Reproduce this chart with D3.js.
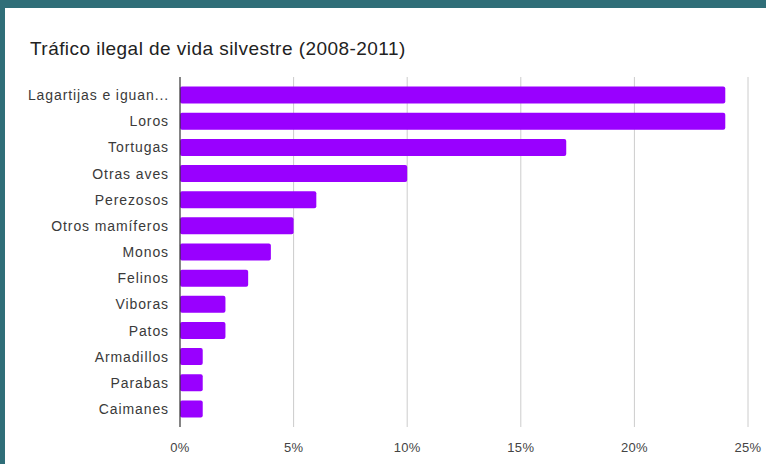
<!DOCTYPE html>
<html>
<head>
<meta charset="utf-8">
<script src="https://cdn.jsdelivr.net/npm/d3@7"></script>
<style>
  body { margin: 0; background: #2f6e78; }
  svg { display: block; font-family: "Liberation Sans", Arial, sans-serif; }
</style>
</head>
<body>
<div id="chart"></div>
<script>
/* DATA */
const categories = ["Lagartijas e iguan...", "Loros", "Tortugas", "Otras aves", "Perezosos",
  "Otros mamíferos", "Monos", "Felinos", "Viboras", "Patos", "Armadillos", "Parabas", "Caimanes"];
const percents = [24, 24, 17, 10, 6, 5, 4, 3, 2, 2, 1, 1, 1];
const xTicks = [0, 5, 10, 15, 20, 25];
const title = "Tráfico ilegal de vida silvestre (2008-2011)";

/* CONSTANTS */
const width = 766,
  height = 464,
  margin = { top: 82, bottom: 42, left: 180, right: 18 };

const rows = categories.map((c, i) => ({ name: c, value: percents[i] }));

const svg = d3.select("#chart")
  .append("svg")
  .attr("width", width)
  .attr("height", height);

// teal frame + white card
svg.append("rect")
  .attr("width", width).attr("height", height)
  .attr("fill", "#2f6e78");
svg.append("rect")
  .attr("x", 5).attr("y", 8)
  .attr("width", width - 5).attr("height", height - 8)
  .attr("fill", "#ffffff");

/* SCALES */
const xScale = d3.scaleLinear()
  .domain([0, 25])
  .range([margin.left, width - margin.right]);

const yScale = d3.scaleBand()
  .domain(categories)
  .range([margin.top, height - margin.bottom])
  .paddingInner(0.35)
  .paddingOuter(0.175);

// title
svg.append("text")
  .attr("x", 30)
  .attr("y", 55)
  .attr("font-size", 19)
  .attr("letter-spacing", 0.45)
  .attr("fill", "#222")
  .text(title);

// gridlines
svg.selectAll("line.grid")
  .data(xTicks.filter(d => d > 0))
  .join("line")
  .attr("class", "grid")
  .attr("x1", d => xScale(d))
  .attr("x2", d => xScale(d))
  .attr("y1", 77)
  .attr("y2", 427)
  .attr("stroke", "#cccccc")
  .attr("stroke-width", 1);

// bars
svg.selectAll("rect.bar")
  .data(rows)
  .join("rect")
  .attr("class", "bar")
  .attr("x", xScale(0))
  .attr("y", d => yScale(d.name))
  .attr("width", d => xScale(d.value) - xScale(0))
  .attr("height", yScale.bandwidth())
  .attr("rx", 2)
  .attr("fill", "#9900ff");

// baseline axis
svg.append("line")
  .attr("x1", xScale(0)).attr("x2", xScale(0))
  .attr("y1", 77).attr("y2", 427)
  .attr("stroke", "#333333")
  .attr("stroke-width", 1.2);

// category labels
svg.selectAll("text.cat")
  .data(rows)
  .join("text")
  .attr("class", "cat")
  .attr("x", xScale(0) - 11)
  .attr("y", d => yScale(d.name) + yScale.bandwidth() / 2)
  .attr("dy", "0.36em")
  .attr("text-anchor", "end")
  .attr("font-size", 14)
  .attr("letter-spacing", 0.9)
  .attr("fill", "#3a3a3a")
  .text(d => d.name);

// x tick labels
svg.selectAll("text.tick")
  .data(xTicks)
  .join("text")
  .attr("class", "tick")
  .attr("x", d => xScale(d))
  .attr("y", 452)
  .attr("text-anchor", "middle")
  .attr("font-size", 13)
  .attr("letter-spacing", 0.3)
  .attr("fill", "#444")
  .text(d => d + "%");
</script>
</body>
</html>
